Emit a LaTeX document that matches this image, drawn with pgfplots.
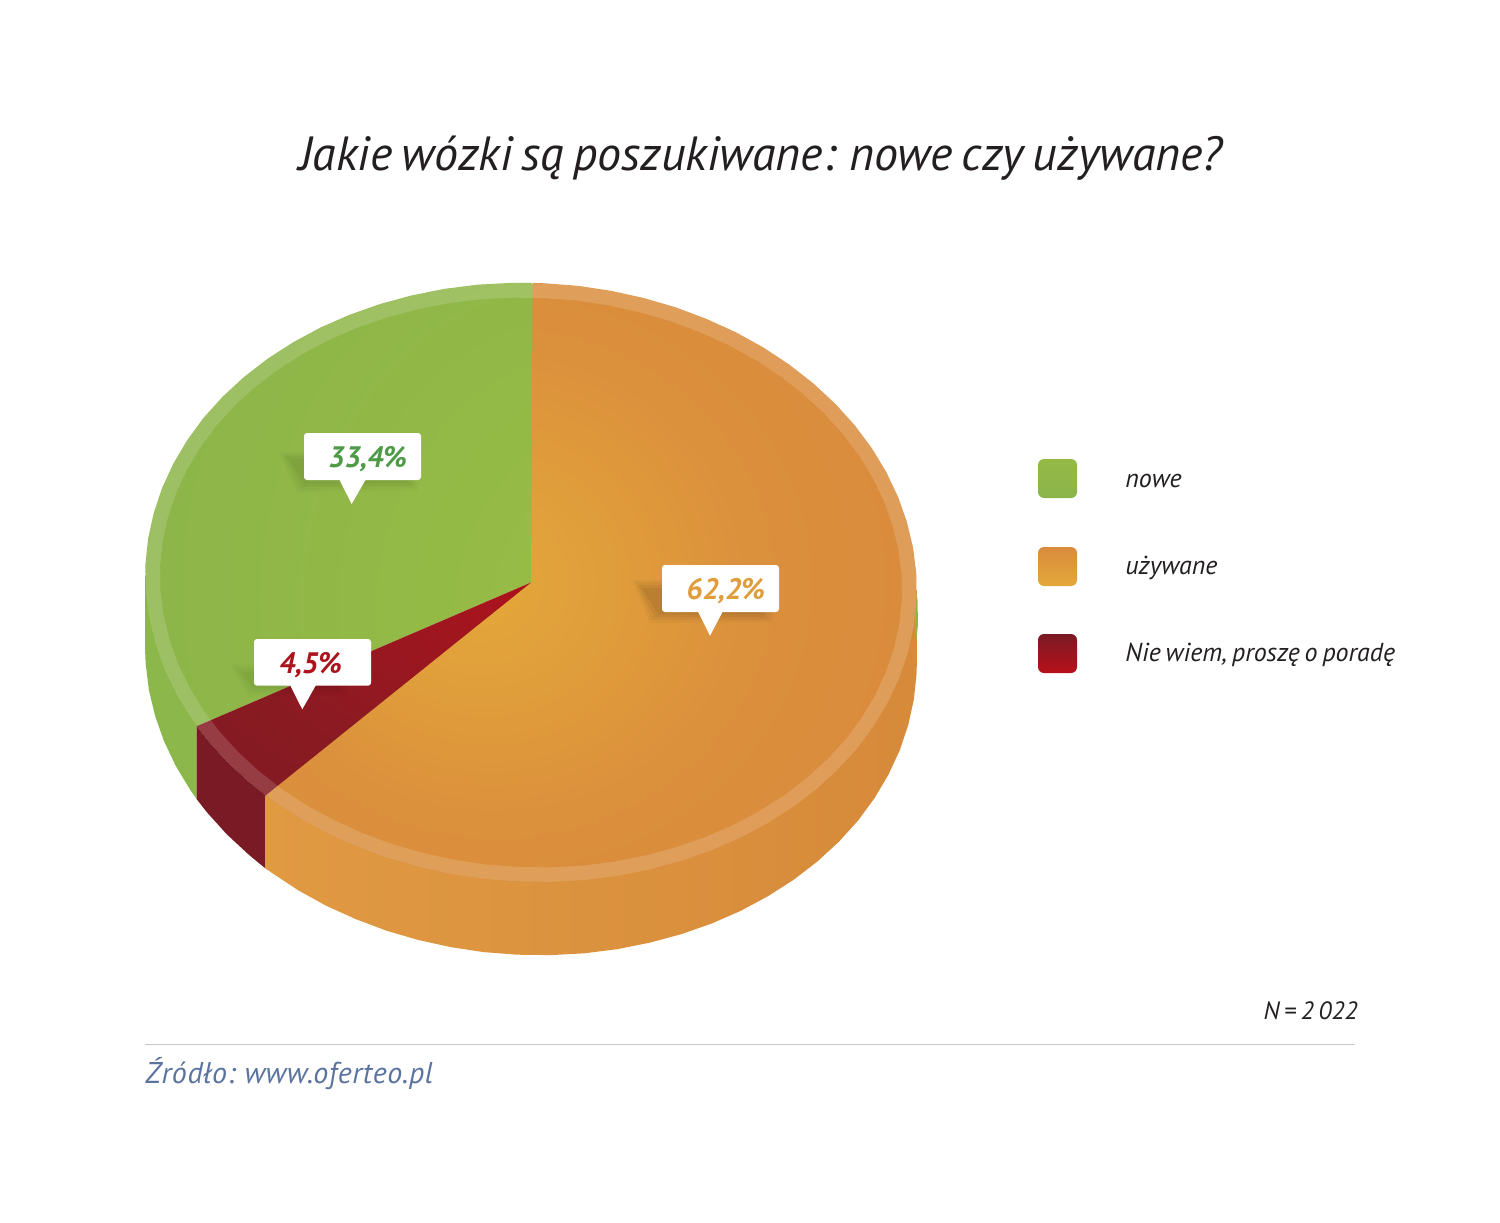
\documentclass[border=0pt]{standalone}
\usepackage{fontspec}
\usepackage{pgfplots}
\pgfplotsset{compat=1.18}
\setmainfont{PT Sans}[WordSpace=0.7]
\definecolor{gA}{HTML}{9CC045}\definecolor{gB}{HTML}{94BA46}\definecolor{gC}{HTML}{8BB44A}
\definecolor{oA}{HTML}{E4A83A}\definecolor{oB}{HTML}{E09D3B}\definecolor{oC}{HTML}{DB903C}\definecolor{oD}{HTML}{D98B3C}
\definecolor{rA}{HTML}{B8101A}\definecolor{rB}{HTML}{AC131C}\definecolor{rC}{HTML}{8C1A22}\definecolor{rD}{HTML}{7A1A24}
\definecolor{wL}{HTML}{E09A42}\definecolor{wM}{HTML}{D88C3C}\definecolor{wR}{HTML}{D68A3A}\definecolor{lG}{HTML}{4F9A47}
\definecolor{wG}{HTML}{8BB74B}
\definecolor{txt}{HTML}{231F20}\definecolor{src}{HTML}{5A739F}
\pgfdeclareradialshading{greenrad}{\pgfpoint{49.6bp}{-17.6bp}}{color(0bp)=(gA); color(25bp)=(gB); color(55bp)=(gC); color(100bp)=(gC)}
\pgfdeclareradialshading{orangerad}{\pgfpoint{-9.2bp}{0bp}}{color(0bp)=(oA); color(10bp)=(oB); color(20bp)=(oC); color(33bp)=(oD); color(100bp)=(oD)}
\pgfdeclareradialshading{redrad}{\pgfpoint{50bp}{50bp}}{color(0bp)=(rA); color(22bp)=(rB); color(48bp)=(rC); color(72bp)=(rD); color(110bp)=(rD)}
\begin{document}
\begin{tikzpicture}
\path[use as bounding box] (0,0) rectangle (750pt,611pt);
\begin{axis}[at={(0,0)},anchor=south west,scale only axis,width=750pt,height=611pt,
  xmin=0,xmax=1500,ymin=0,ymax=1222,y dir=reverse,hide axis,clip=false,no markers]
% side walls
\addplot[draw=none,fill=wG] coordinates {(145.2,575)(145.2,653)(145.7,664)(148.9,690)(155.1,715.9)(164,741.2)(175.8,766)(190.2,789.8)(196.7,799.2)(196.7,726.2)} --cycle;
\addplot[draw=none,fill=rD] coordinates {(196.7,726.2)(207.2,739.6)(226.8,761.3)(248.7,781.6)(265.5,795.5)(265.5,868.5)(248.7,854.6)(226.8,834.3)(207.2,812.6)(196.7,799.2)} --cycle;
\addplot[draw=none,left color=wL,middle color=wM,right color=wR] coordinates {(265.5,795.5)(916.9,590)(916.9,660)(916.6,673.1)(913.9,699.2)(908.3,724.8)(899.9,749.9)(888.6,774.4)(874.6,798)(858.2,820.4)(839,841.6)(817.6,861.3)(793.9,879.6)(768.3,896)(741,910.7)(711.9,923.4)(681.5,934.1)(650,942.6)(617.6,949.1)(584.4,953.3)(551.1,955.1)(517.3,954.7)(483.7,952.1)(450.6,947.1)(418,939.9)(386.2,930.6)(355.7,919.1)(326.3,905.8)(298.6,890.5)(272.7,873.4)(265.5,868.5)} --cycle;
\addplot[draw=none,fill=wG] coordinates {(914.5,582)(917.5,600)(918,625)(916,642)(915,625)} --cycle;
% underlay of the seams between the sectors
\addplot[color=gC,line width=.5pt] coordinates {(532.6,284)(531,582.5)};
\addplot[color=oC,line width=.5pt] coordinates {(531,582.5)(266,795)};
% top face: nowe 33,4
\addplot[draw=none,shading=greenrad] coordinates {(531,582.5)(532.6,282.9)(510.9,282.9)(477.6,284.7)(444.4,288.9)(412,295.4)(380.5,303.9)(350.1,314.6)(321,327.3)(293.7,342)(268.1,358.4)(244.4,376.7)(223,396.4)(203.8,417.6)(187.4,440)(173.4,463.6)(162.1,488.1)(153.7,513.2)(148.1,538.8)(145.4,564.9)(145.7,591)(148.9,617)(155.1,642.9)(164,668.2)(175.8,693)(190.2,716.8)(196.7,726.2)} --cycle;
% top face: uzywane 62,2
\addplot[draw=none,shading=orangerad] coordinates {(531,582.5)(265.5,795.5)(272.7,800.4)(298.6,817.5)(326.3,832.8)(355.7,846.1)(386.2,857.6)(418,866.9)(450.6,874.1)(483.7,879.1)(517.3,881.7)(551.1,882.1)(584.4,880.3)(617.6,876.1)(650,869.6)(681.5,861.1)(711.9,850.4)(741,837.7)(768.3,823)(793.9,806.6)(817.6,788.3)(839,768.6)(858.2,747.4)(874.6,725)(888.6,701.4)(899.9,676.9)(908.3,651.8)(913.9,626.2)(916.6,600.1)(916.3,574)(913.1,548)(906.9,522.1)(898,496.8)(886.2,472)(871.8,448.2)(854.8,425.4)(835.2,403.7)(813.3,383.4)(789.3,364.6)(763.4,347.5)(735.7,332.2)(706.3,318.9)(675.8,307.4)(644,298.1)(611.4,290.9)(578.3,285.9)(544.7,283.3)(532.6,282.9)} --cycle;
% top face: nie wiem 4,5
\addplot[draw=none,shading=redrad] coordinates {(531,582.5)(196.7,726.2)(207.2,739.6)(226.8,761.3)(248.7,781.6)(265.5,795.5)} --cycle;
% rim
\addplot[white,opacity=.15,line width=7.25pt] coordinates {(544.4,290.8)(511.3,290.4)(478.6,292.1)(446.1,296.2)(414.3,302.6)(383.4,310.9)(353.6,321.3)(325.1,333.7)(298.3,348)(273.2,364)(250,381.8)(229,401.1)(210.1,421.7)(194.1,443.6)(180.3,466.6)(169.3,490.5)(161,514.9)(155.5,539.9)(152.9,565.3)(153.2,590.8)(156.3,616.1)(162.4,641.4)(171.1,666.1)(182.7,690.2)(196.8,713.4)(213.5,735.7)(232.7,756.8)(254.2,776.6)(277.7,795)(303.1,811.6)(330.3,826.5)(359.1,839.5)(389,850.7)(420.2,859.8)(452.2,866.8)(484.6,871.7)(517.6,874.2)(550.7,874.6)(583.4,872.9)(615.9,868.8)(647.7,862.4)(678.6,854.1)(708.4,843.7)(736.9,831.3)(763.7,817)(788.8,801)(812,783.2)(833,763.9)(851.9,743.3)(867.9,721.4)(881.7,698.4)(892.7,674.5)(901,650.1)(906.5,625.1)(909.1,599.7)(908.8,574.2)(905.7,548.9)(899.6,523.6)(890.9,498.9)(879.3,474.8)(865.2,451.6)(848.5,429.3)(829.3,408.2)(807.8,388.4)(784.3,370)(758.9,353.4)(731.7,338.5)(702.9,325.5)(673,314.3)(641.8,305.2)(609.8,298.2)(577.4,293.3)(544.4,290.8)} --cycle;
% callout shadows
\addplot[draw=none,fill=black,opacity=.02] coordinates {(279,452)(304,452)(304,478)(420,478)(417,491)(297,493)} --cycle;
\addplot[draw=none,fill=black,opacity=.025] coordinates {(282,454)(304,454)(304,478)(417,478)(414,488)(299,490)} --cycle;
\addplot[draw=none,fill=black,opacity=.03] coordinates {(285,456)(304,456)(304,478)(414,478)(411,486)(302,487)} --cycle;
\addplot[draw=none,fill=black,opacity=.03] coordinates {(289,459)(304,459)(304,478)(410,478)(408,483)(305,484)} --cycle;
\addplot[draw=none,fill=black,opacity=.03] coordinates {(632,580)(662,580)(662,610)(775,610)(772,622)(650,623)} --cycle;
\addplot[draw=none,fill=black,opacity=.04] coordinates {(635,582)(662,582)(662,610)(772,610)(769,620)(652,620)} --cycle;
\addplot[draw=none,fill=black,opacity=.05] coordinates {(638,585)(662,585)(662,610)(768,610)(765,617)(655,617)} --cycle;
\addplot[draw=none,fill=black,opacity=.05] coordinates {(642,588)(662,588)(662,610)(764,610)(762,614)(658,614)} --cycle;
\addplot[draw=none,fill=black,opacity=.015] coordinates {(230,664)(254,664)(254,684)(350,684)(347,695)(247,697)} --cycle;
\addplot[draw=none,fill=black,opacity=.02] coordinates {(233,666)(254,666)(254,684)(347,684)(344,693)(249,694)} --cycle;
\addplot[draw=none,fill=black,opacity=.025] coordinates {(236,669)(254,669)(254,684)(343,684)(340,690)(252,691)} --cycle;
\addplot[draw=none,fill=black,opacity=.025] coordinates {(240,672)(254,672)(254,684)(339,684)(337,688)(254,688)} --cycle;
% callouts
\addplot[draw=none,fill=white] coordinates {(339,479)(366,479)(351.7,504)} --cycle;
\addplot[draw=none,fill=white] coordinates {(697.7,611)(723,611)(710,635.7)} --cycle;
\addplot[draw=none,fill=white] coordinates {(290,685)(316,685)(302.3,709.3)} --cycle;
\fill[white,rounded corners=1.5pt] (axis cs:304,433) rectangle (axis cs:421,480);
\fill[white,rounded corners=1.5pt] (axis cs:662,565) rectangle (axis cs:779,612);
\fill[white,rounded corners=1.5pt] (axis cs:254,639) rectangle (axis cs:371,685.7);
\node[anchor=base west,inner sep=0pt,font=\fontsize{14.8}{15}\selectfont\bfseries\itshape,text=lG] at (axis cs:328,467) {33,4\%};
\node[anchor=base west,inner sep=0pt,font=\fontsize{14.8}{15}\selectfont\bfseries\itshape,text=oB] at (axis cs:686,599) {62,2\%};
\node[anchor=base west,inner sep=0pt,font=\fontsize{14.8}{15}\selectfont\bfseries\itshape,text=rB] at (axis cs:279,673) {4,5\%};
% title
\node[anchor=base,inner sep=0pt,font=\fontsize{24}{24}\selectfont\itshape,text=txt] at (axis cs:761,170) {Jakie wózki są poszukiwane: nowe czy używane?};
% legend
\node[minimum size=19.5pt,inner sep=0pt,rounded corners=3pt,top color=gB,bottom color=gC] at (axis cs:1057.5,478.5) {};
\node[minimum size=19.5pt,inner sep=0pt,rounded corners=3pt,top color=oD,bottom color=oA] at (axis cs:1057.5,566.5) {};
\node[minimum size=19.5pt,inner sep=0pt,rounded corners=3pt,top color=rD,bottom color=rA] at (axis cs:1057.5,653.5) {};
\node[anchor=base west,inner sep=0pt,font=\fontsize{13}{13}\selectfont\itshape,text=txt] at (axis cs:1125,487) {nowe};
\node[anchor=base west,inner sep=0pt,font=\fontsize{13}{13}\selectfont\itshape,text=txt] at (axis cs:1125,574) {używane};
\node[anchor=base west,inner sep=0pt,font=\fontsize{13}{13}\selectfont\itshape,text=txt] at (axis cs:1125,661) {Nie wiem, proszę o poradę};
\node[anchor=base east,inner sep=0pt,font=\fontsize{12.5}{13}\selectfont\itshape,text=txt] at (axis cs:1358,1019) {N = 2 022};
\addplot[color=black!22,line width=.5pt] coordinates {(145,1044.5)(1355,1044.5)};
\node[anchor=base west,inner sep=0pt,font=\fontsize{15}{15}\selectfont\itshape\addfontfeature{LetterSpace=2},text=src] at (axis cs:145,1083) {Źródło: www.oferteo.pl};
\end{axis}
\end{tikzpicture}
\end{document}
